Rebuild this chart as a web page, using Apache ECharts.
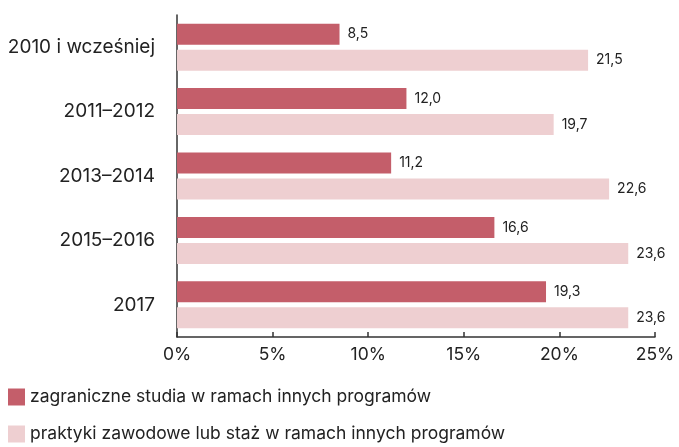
<!DOCTYPE html>
<html><head><meta charset="utf-8">
<script src="https://cdn.jsdelivr.net/npm/echarts@6/dist/echarts.min.js"></script>
<style>html,body{margin:0;padding:0;background:#fff}#c{width:679px;height:447px}</style>
</head><body><div id="c"></div>
<script>
const categories = ['2010 i wcześniej', '2011–2012', '2013–2014', '2015–2016', '2017'];
const seriesNames = ['zagraniczne studia w ramach innych programów', 'praktyki zawodowe lub staż w ramach innych programów'];
const studia = [8.5, 12.0, 11.2, 16.6, 19.3];
const praktyki = [21.5, 19.7, 22.6, 23.6, 23.6];
const xTicks = [0, 5, 10, 15, 20, 25];

const font = 'Inter, "Noto Sans", sans-serif';
const fmt = v => v.toFixed(1).replace('.', ',');
const chart = echarts.init(document.getElementById('c'));
const lbl = {show: true, position: 'right', distance: 8, fontSize: 14, color: '#222', fontFamily: font, formatter: p => fmt(p.value)};
const legendBase = {orient: 'vertical', left: 8, padding: 0, itemWidth: 17, itemHeight: 17, icon: 'rect',
  textStyle: {fontSize: 17.5, color: '#222', fontFamily: font}};
chart.setOption({
  animation: false,
  grid: {left: 177, right: 24, top: 15, bottom: 110, containLabel: false},
  legend: [
    Object.assign({}, legendBase, {top: 388, data: [seriesNames[0]]}),
    Object.assign({}, legendBase, {top: 425, data: [seriesNames[1]]})
  ],
  xAxis: {
    type: 'value', min: 0, max: 25, interval: 5,
    axisLine: {show: true, lineStyle: {color: '#333', width: 1.5}},
    axisTick: {show: true, inside: true, length: 5, lineStyle: {color: '#333', width: 1.5}},
    splitLine: {show: false},
    axisLabel: {fontSize: 17.5, color: '#222', fontFamily: font, margin: 9,
      formatter: v => xTicks.includes(v) ? v + '%' : ''}
  },
  yAxis: {
    type: 'category', data: categories, inverse: true,
    axisLine: {show: true, lineStyle: {color: '#333', width: 1.5}},
    axisTick: {show: false},
    axisLabel: {fontSize: 19, color: '#222', fontFamily: font, margin: 22}
  },
  series: [
    {name: seriesNames[0], type: 'bar', data: studia, barWidth: 21, barGap: '24%', itemStyle: {color: '#c45e6a'}, label: lbl},
    {name: seriesNames[1], type: 'bar', data: praktyki, barWidth: 21, itemStyle: {color: '#eecfd1'}, label: lbl}
  ]
});
</script></body></html>
